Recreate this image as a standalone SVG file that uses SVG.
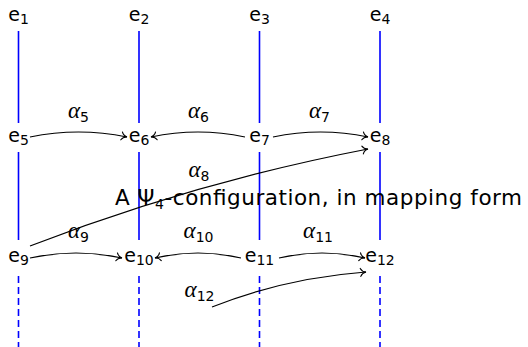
<svg xmlns="http://www.w3.org/2000/svg" width="528" height="347" viewBox="0 0 528 347">
  <style>
    .col { stroke: #0000ff; stroke-width: 1.6; fill: none; }
    .dash { stroke-dasharray: 7 4; }
    .e { font-family: "DejaVu Sans", sans-serif; font-size: 19px; fill: #000; text-anchor: middle; }
    .sub { font-family: "DejaVu Sans", sans-serif; font-size: 14px; font-style: normal; }
    .al { font-family: "Liberation Serif", serif; font-style: italic; font-size: 23px; fill: #000; text-anchor: middle; }
    .arr { stroke: #000; stroke-width: 1.2; fill: none; marker-end: url(#to); }
    .cap { font-family: "DejaVu Sans", sans-serif; font-size: 21.5px; fill: #000; }
  </style>
  <defs>
    <marker id="to" viewBox="-7 -5 8 10" markerWidth="8" markerHeight="10" refX="0" refY="0" orient="auto" markerUnits="userSpaceOnUse">
      <path d="M -5.5 -4 C -4.5 -1.7 -1.8 -0.3 0 0 C -1.8 0.3 -4.5 1.7 -5.5 4" stroke="#000" stroke-width="1.1" fill="none" stroke-linecap="round"/>
    </marker>
  </defs>

  <g id="columns">
    <path class="col" d="M18.5 31V123M139 31V123M259.5 31V123M380 31V123"/>
    <path class="col" d="M18.5 152V240M139 152V240M259.5 152V240M380 152V240"/>
    <path class="col dash" d="M18.5 276V347M139 276V347M259.5 276V347M380 276V347"/>
  </g>

  <text id="caption" class="cap" x="115" y="205" textLength="407" lengthAdjust="spacing">A Ψ<tspan class="sub" font-size="15" dy="4">4</tspan><tspan dy="-4">-configuration, in mapping form</tspan></text>

  <g id="connectors">
    <path id="a5" class="arr" d="M30 137 Q78.5 127 127 137"/>
    <path id="a6" class="arr" d="M245 137 Q198 127 151 137"/>
    <path id="a7" class="arr" d="M273 137 Q320.5 127 368 137"/>
    <path id="a8" class="arr" d="M30 246 Q196 182 368 149"/>
    <path id="a9" class="arr" d="M30 258 Q76 248 122 258"/>
    <path id="a10" class="arr" d="M241 258 Q198 248 155 258"/>
    <path id="a11" class="arr" d="M279 258 Q322 248 365 258"/>
    <path id="a12" class="arr" d="M212 307 Q285 278 366 272"/>
    <text class="al" x="78.5" y="118">α<tspan class="sub" dy="4">5</tspan></text>
    <text class="al" x="198.5" y="118">α<tspan class="sub" dy="4">6</tspan></text>
    <text class="al" x="319.5" y="118">α<tspan class="sub" dy="4">7</tspan></text>
    <text class="al" x="199" y="177">α<tspan class="sub" dy="4">8</tspan></text>
    <text class="al" x="78.5" y="238">α<tspan class="sub" dy="4">9</tspan></text>
    <text class="al" x="198.5" y="238">α<tspan class="sub" dy="4">10</tspan></text>
    <text class="al" x="318" y="238">α<tspan class="sub" dy="4">11</tspan></text>
    <text class="al" x="199.5" y="297">α<tspan class="sub" dy="4">12</tspan></text>
  </g>

  <g id="e1"><text class="e" x="18.5" y="21">e<tspan class="sub" dy="3">1</tspan></text></g>
  <g id="e2"><text class="e" x="139" y="21">e<tspan class="sub" dy="3">2</tspan></text></g>
  <g id="e3"><text class="e" x="259.5" y="21">e<tspan class="sub" dy="3">3</tspan></text></g>
  <g id="e4"><text class="e" x="380" y="21">e<tspan class="sub" dy="3">4</tspan></text></g>
  <g id="e5"><text class="e" x="18.5" y="142">e<tspan class="sub" dy="3">5</tspan></text></g>
  <g id="e6"><text class="e" x="139" y="142">e<tspan class="sub" dy="3">6</tspan></text></g>
  <g id="e7"><text class="e" x="259.5" y="142">e<tspan class="sub" dy="3">7</tspan></text></g>
  <g id="e8"><text class="e" x="380" y="142">e<tspan class="sub" dy="3">8</tspan></text></g>
  <g id="e9"><text class="e" x="18.5" y="262">e<tspan class="sub" dy="3">9</tspan></text></g>
  <g id="e10"><text class="e" x="139" y="262">e<tspan class="sub" dy="3">10</tspan></text></g>
  <g id="e11"><text class="e" x="259.5" y="262">e<tspan class="sub" dy="3">11</tspan></text></g>
  <g id="e12"><text class="e" x="380" y="262">e<tspan class="sub" dy="3">12</tspan></text></g>
</svg>
